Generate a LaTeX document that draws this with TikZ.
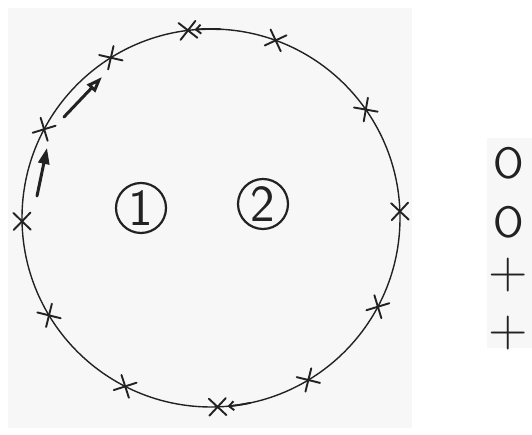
\documentclass[tikz,border=0pt]{standalone}
\usepackage{fontspec}
\usetikzlibrary{arrows.meta}
\definecolor{paper}{HTML}{F7F7F7}
\definecolor{ink}{HTML}{222222}

\begin{document}
\begin{tikzpicture}[x=1pt,y=1pt,line cap=round,
    ring/.style={draw=ink,line width=1.4pt},
    tickmark/.style={draw=ink,line width=1.9pt},
    tag/.style={circle,draw=ink,line width=2.2pt,minimum size=50pt,inner sep=0pt,
      text=ink,font=\sffamily\fontsize{52}{52}\selectfont},
    legend/.style={text=ink,inner sep=0pt,font=\sffamily\fontsize{44}{44}\selectfont},
    flow/.style={draw=ink,line width=3pt}]
  \useasboundingbox (0,0) rectangle (532,435);
  \fill[paper] (8,7) rectangle (412,427);
  \fill[paper] (487,87) rectangle (532,297);
  \coordinate (c) at (211,217);
  \draw[ring] (c) circle[radius=189];
  \foreach \a in {97,70,35,2,-28,-59,-88,-117,-149,-179,152,122}
    \draw[tickmark] ([shift={(\a:189)}]c) +(\a+45:12) -- +(\a+225:12)
      +(\a-45:12) -- +(\a+135:12);
  \draw[tickmark,-{Straight Barb[length=5pt,width=9pt]}]
    ([shift={(87:189)}]c) arc[start angle=87,end angle=95,radius=189];
  \draw[tickmark,-{Straight Barb[length=5pt,width=9pt]}]
    ([shift={(-78:189)}]c) arc[start angle=-78,end angle=-85,radius=189];
  \coordinate (up1) at (64,318);
  \coordinate (up2) at (102,358);
  \coordinate (lo1) at (37,239);
  \coordinate (lo2) at (47,287);
  \draw[flow,-{Triangle[open,length=16pt,width=11pt]}] (up1) -- (up2);
  \draw[flow,-{Triangle[length=16pt,width=11pt]}] (lo1) -- (lo2);
  \node[tag] (one) at (141,227) {1};
  \node[tag] (two) at (263,231) {2};
  \node[legend] (leg1) at (509,272) {O};
  \node[legend] (leg2) at (509,213) {O};
  \node[legend,font=\sffamily\fontsize{54}{54}\selectfont] (leg3) at (508,160) {+};
  \node[legend,font=\sffamily\fontsize{54}{54}\selectfont] (leg4) at (508,102) {+};
\end{tikzpicture}
\end{document}
